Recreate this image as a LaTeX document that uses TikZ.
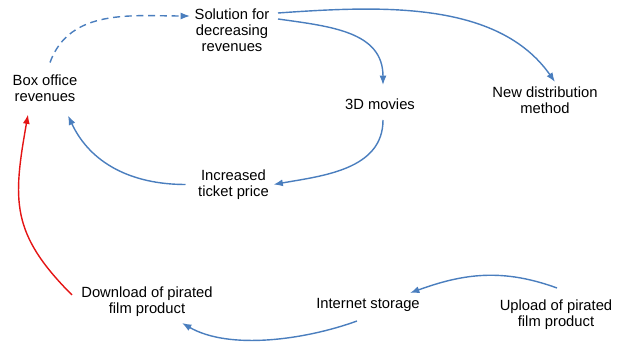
\documentclass[tikz,border=0pt]{standalone}
\usepackage{fontspec}
\setmainfont{Liberation Sans}
\usetikzlibrary{arrows.meta}

\definecolor{linkblue}{RGB}{74,126,190}
\definecolor{piratered}{RGB}{228,20,20}

\begin{document}
\begin{tikzpicture}[x=0.03cm,y=0.03cm,
    factor/.style={align=center,inner sep=0pt,font=\fontsize{12.6}{13.6}\selectfont},
    link/.style={linkblue,line width=1.2pt,-{Latex[length=8pt,width=6pt]}},
    pirate/.style={link,piratered}]
      \useasboundingbox (0,0) rectangle (619,345);

      % ---------- Factors ----------
      \node[factor] (box)      at (45,256.5)  {Box office\\revenues};
      \node[factor] (sol)      at (232,315)   {Solution for\\decreasing\\revenues};
      \node[factor] (movies)   at (380,241)   {3D movies};
      \node[factor] (newdist)  at (545,245)   {New distribution\\method};
      \node[factor] (ticket)   at (233.5,160.5) {Increased\\ticket price};
      \node[factor] (download) at (147,43)    {Download of pirated\\film product};
      \node[factor] (storage)  at (368,40)    {Internet storage};
      \node[factor] (upload)   at (556,30)    {Upload of pirated\\film product};

      % ---------- Upper loop ----------
      \draw[link,dash pattern=on 6pt off 4pt]
        ([shift={(5,26)}]box.center) to[out=70,in=180] ([shift={(-42,14)}]sol.center);
      \draw[link] ([shift={(46,11)}]sol.center) to[out=-8,in=90,looseness=1.1] ([shift={(3,19)}]movies.center);
      \draw[link] ([shift={(46,17)}]sol.center) to[out=4,in=125,looseness=0.9] ([shift={(10,18)}]newdist.center);
      \draw[link] ([shift={(3,-16)}]movies.center) to[out=-90,in=10] ([shift={(40,0)}]ticket.center);
      \draw[link] ([shift={(-48,0)}]ticket.center) to[out=180,in=-65] ([shift={(23,-27)}]box.center);

      % ---------- Piracy chain ----------
      \draw[link] ([shift={(1,27)}]upload.center) to[out=160,in=20] ([shift={(42,12)}]storage.center);
      \draw[link] ([shift={(-11,-16)}]storage.center) to[out=-160,in=-30,looseness=0.8] ([shift={(35,-21)}]download.center);
      \draw[pirate] ([shift={(-75,7)}]download.center) to[out=135,in=-100,looseness=1.2] ([shift={(-17,-26)}]box.center);
    \end{tikzpicture}
\end{document}
